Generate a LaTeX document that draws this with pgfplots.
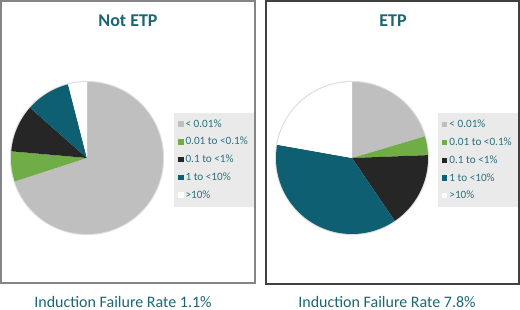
\documentclass[border=0pt]{standalone}
\usepackage{pgfplots}
\pgfplotsset{compat=1.18}
\usepackage{fontspec}
\setmainfont{Carlito}
\definecolor{cgray}{HTML}{BFBFBF}
\definecolor{cgreen}{HTML}{70AD47}
\definecolor{cblack}{HTML}{262626}
\definecolor{cteal}{HTML}{0E5F72}
\definecolor{cwhite}{HTML}{FFFFFF}
\definecolor{titleteal}{HTML}{1B6672}
\definecolor{legtext}{HTML}{2B6F7C}
\definecolor{legbg}{HTML}{EAEAEA}
\newcommand\pieslices[1]{%
  \gdef\cumul{0}%
  \foreach \v/\c in {#1} {%
    \pgfmathsetmacro\a{90-\cumul*3.6}%
    \pgfmathsetmacro\b{90-(\cumul+\v)*3.6}%
    \edef\tmp{\noexpand\addplot[fill=\c, draw=none, domain=\b:\a, samples=60] ({cos(x)},{sin(x)}) -- (axis cs:0,0) -- cycle;}%
    \tmp
    \pgfmathsetmacro\nc{\cumul+\v}\xdef\cumul{\nc}%
  }%
}
\pgfplotsset{
  piestyle/.style={
    hide axis, scale only axis, width=152pt, height=152pt,
    xmin=-1, xmax=1, ymin=-1, ymax=1, anchor=center, clip=false,
    legend style={anchor=north west, fill=legbg, draw=none,
      font=\fontsize{11.2}{12.5}\selectfont, text=legtext,
      row sep=4.6pt, inner xsep=4pt, inner ysep=5pt, cells={anchor=west}},
    legend image code/.code={\fill[##1, draw=none] (0pt,-2.7pt) rectangle (5.4pt,2.7pt);},
    legend entries={{< 0.01\%},{0.01 to <0.1\%},{0.1 to <1\%},{1 to <10\%},{>10\%}},
  }
}
\begin{document}
\begin{tikzpicture}[x=1pt,y=1pt]
\useasboundingbox (0,0) rectangle (520,310);
\draw[color=black!48, line width=1.2pt] (1,27) rectangle (255,309);
\draw[color=black!75, line width=1.2pt] (266,26) rectangle (519,309);
\node[font=\fontsize{18}{20}\selectfont\bfseries, text=titleteal] at (128,289) {Not ETP};
\node[font=\fontsize{18}{20}\selectfont\bfseries, text=titleteal] at (393,289) {ETP};
\node[font=\fontsize{16}{18}\selectfont, text=titleteal, anchor=base, inner sep=0pt] at (123,2.5) {Induction Failure Rate 1.1\%};
\node[font=\fontsize{16}{18}\selectfont, text=titleteal, anchor=base, inner sep=0pt] at (387,2.5) {Induction Failure Rate 7.8\%};
\begin{axis}[piestyle, at={(87pt,152pt)}, legend style={at={(1.072,0.80)}}]
  \addplot[draw=black!10, line width=2.4pt, domain=0:360, samples=120, forget plot] ({cos(x)},{sin(x)});
  \addplot[draw=black!16, line width=1pt, domain=0:360, samples=120, forget plot] ({cos(x)},{sin(x)});
  \pieslices{70/cgray, 6.4/cgreen, 10.1/cblack, 9.5/cteal, 4.0/cwhite}
\end{axis}
\begin{axis}[piestyle, at={(352pt,152pt)}, legend style={at={(1.065,0.796)}}]
  \addplot[draw=black!10, line width=2.4pt, domain=0:360, samples=120, forget plot] ({cos(x)},{sin(x)});
  \addplot[draw=black!16, line width=1pt, domain=0:360, samples=120, forget plot] ({cos(x)},{sin(x)});
  \pieslices{20.4/cgray, 4.0/cgreen, 16.1/cblack, 37.3/cteal, 22.2/cwhite}
\end{axis}
\end{tikzpicture}
\end{document}
